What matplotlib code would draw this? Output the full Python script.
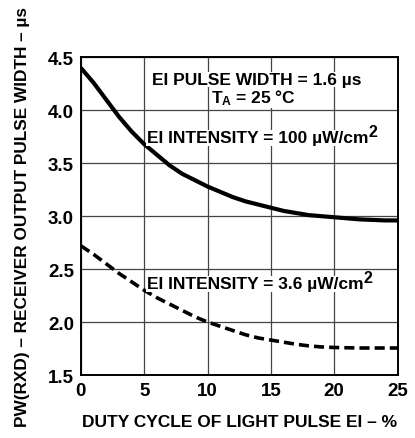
import numpy as np
import matplotlib
matplotlib.use("Agg")
import matplotlib.pyplot as plt

plt.rcParams['font.family'] = ['Liberation Sans', 'DejaVu Sans']
plt.rcParams['font.weight'] = 'bold'
plt.rcParams['mathtext.fontset'] = 'custom'
plt.rcParams['mathtext.rm'] = 'Liberation Sans:bold'
plt.rcParams['mathtext.bf'] = 'Liberation Sans:bold'
plt.rcParams['mathtext.it'] = 'Liberation Sans:bold'

# duty cycle (%) and pulse width (us)
duty_100 = [0, 0.5, 1, 1.5, 2, 2.5, 3, 3.5, 4, 4.5, 5, 6, 7, 8, 9, 10, 11, 12, 13,
            14, 15, 16, 17, 18, 19, 20, 21, 22, 23, 24, 25]
pw_100 = [4.40, 4.33, 4.26, 4.18, 4.10, 4.02, 3.94, 3.87, 3.80, 3.74, 3.68, 3.58,
          3.48, 3.40, 3.34, 3.28, 3.23, 3.18, 3.14, 3.11, 3.08, 3.05, 3.03, 3.01,
          3.00, 2.99, 2.98, 2.97, 2.965, 2.96, 2.96]
duty_3p6 = [0, 1, 2, 3, 4, 5, 6, 7, 8, 9, 10, 11, 12, 13, 14, 15, 16, 17, 18, 19,
            20, 22, 25]
pw_3p6 = [2.72, 2.64, 2.55, 2.46, 2.38, 2.30, 2.23, 2.17, 2.11, 2.05, 2.00, 1.96,
          1.92, 1.88, 1.85, 1.83, 1.81, 1.79, 1.775, 1.765, 1.76, 1.755, 1.755]

xticks = [0, 5, 10, 15, 20, 25]
yticks = [1.5, 2.0, 2.5, 3.0, 3.5, 4.0, 4.5]

fig = plt.figure(figsize=(4.15, 4.39), dpi=100)
ax = fig.add_axes([0.195, 0.1435, 0.763, 0.7235])

ax.plot(duty_100, pw_100, color='black', lw=3.0, solid_capstyle='butt')
ax.plot(duty_3p6, pw_3p6, color='black', lw=2.6, ls=(0, (2.8, 1.4)))

ax.set_xlim(0, 25)
ax.set_ylim(1.5, 4.5)
ax.set_xticks(xticks)
ax.set_yticks(yticks)
ax.set_xticklabels([str(v) for v in xticks])
ax.set_yticklabels(['%.1f' % v for v in yticks])
ax.tick_params(length=0, labelsize=13.5, pad=5)
for lab in ax.get_xticklabels() + ax.get_yticklabels():
    lab.set_fontweight('bold')
ax.grid(True, color='#444444', lw=0.9)
for s in ax.spines.values():
    s.set_linewidth(1.4)

ax.set_xlabel('DUTY CYCLE OF LIGHT PULSE EI – %', fontsize=12.5, fontweight='bold', labelpad=11)
ax.set_ylabel('PW(RXD) – RECEIVER OUTPUT PULSE WIDTH – µs', fontsize=12.4, fontweight='bold', labelpad=13)

fs = 12.5
bbox = dict(facecolor='white', edgecolor='none', pad=0.3)
ax.text(13.9, 4.29, 'EI PULSE WIDTH = 1.6 µs', ha='center', va='center', fontsize=fs, fontweight='bold', bbox=bbox)
ax.text(13.6, 4.12, r'T$_{\mathrm{A}}$ = 25 °C', ha='center', va='center', fontsize=fs, fontweight='bold', bbox=bbox)
t1 = ax.text(5.2, 3.74, 'EI INTENSITY = 100 µW/cm', ha='left', va='center', fontsize=fs, fontweight='bold', bbox=bbox)
t2 = ax.text(5.2, 2.36, 'EI INTENSITY = 3.6 µW/cm', ha='left', va='center', fontsize=fs, fontweight='bold', bbox=bbox)
for t in (t1, t2):
    ax.annotate('2', xy=(1.0, 0.42), xycoords=t, ha='left', va='bottom', fontsize=11.5, fontweight='bold')

fig.savefig('out.png', dpi=100)
